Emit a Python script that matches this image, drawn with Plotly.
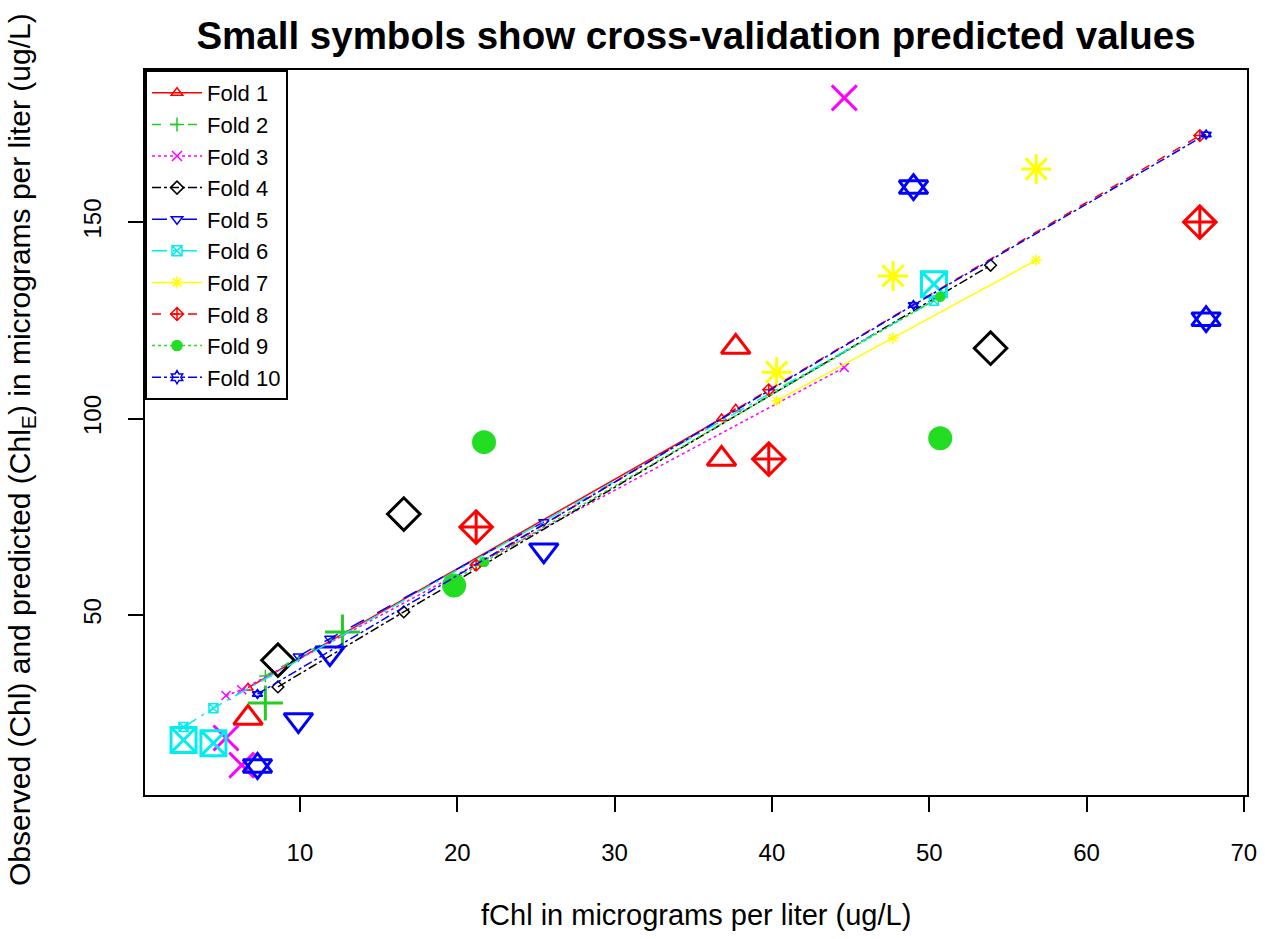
import plotly.graph_objects as go

# ---------------- data ----------------
fold_names = ["Fold 1", "Fold 2", "Fold 3", "Fold 4", "Fold 5",
              "Fold 6", "Fold 7", "Fold 8", "Fold 9", "Fold 10"]

# fChl (x) values for each fold
fold_x = [
    [6.7, 36.8, 37.7],
    [7.8, 12.7],
    [5.3, 6.3, 44.6],
    [8.6, 16.6, 53.9],
    [9.9, 11.9, 25.5],
    [2.6, 4.5, 50.3],
    [40.3, 47.7, 56.8],
    [21.2, 39.8, 67.2],
    [19.8, 21.7, 50.7],
    [7.3, 49.0, 67.6],
]
# observed Chl (large symbols)
fold_obs = [
    [23.8, 89.7, 118.2],
    [27.6, 45.7],
    [18.7, 11.8, 181.6],
    [38.5, 75.7, 117.9],
    [23.3, 40.3, 66.5],
    [18.2, 17.4, 134.2],
    [111.8, 136.3, 163.5],
    [72.4, 89.7, 150.0],
    [57.5, 94.0, 95.0],
    [11.6, 158.9, 125.3],
]
# cross-validation predicted values (small symbols + lines)
fold_pred = [
    [31.5, 100.0, 102.5],
    [34.5, 45.5],
    [29.5, 31.0, 113.0],
    [31.7, 50.8, 139.0],
    [39.5, 44.0, 73.7],
    [21.5, 26.3, 130.0],
    [104.5, 120.5, 140.3],
    [62.7, 107.3, 172.0],
    [59.0, 63.5, 131.0],
    [29.9, 128.9, 172.3],
]

x_ticks = [10, 20, 30, 40, 50, 60, 70]
y_ticks = [50, 100, 150]

# ---------------- styles ----------------
colors = ["#FF0000", "#22CC22", "#FF00FF", "#000000", "#0000FF",
          "#00EEEE", "#FFFF00", "#FF0000", "#22DD22", "#0000FF"]
symbols = ["triangle-up-open", "cross-thin-open", "x-thin-open", "diamond-open",
           "triangle-down-open", "square-x-open", "asterisk-open",
           "diamond-cross-open", "circle", "triangle-up-open"]
dashes = ["solid", "dash", "dot", "dashdot", "longdash",
          "longdashdot", "solid", "dash", "dot", "dashdot"]

fig = go.Figure()

for i, name in enumerate(fold_names):
    xs = fold_x[i]
    order = sorted(range(len(xs)), key=lambda k: xs[k])
    sx = [xs[k] for k in order]
    sp = [fold_pred[i][k] for k in order]
    c = colors[i]
    sym = symbols[i]
    big_lw = 3
    # line + small symbols (predicted)
    fig.add_trace(go.Scatter(
        x=sx, y=sp, mode="lines+markers", showlegend=False,
        line=dict(color=c, width=1.5, dash=dashes[i]),
        marker=dict(symbol=sym, size=9, color=c, line=dict(color=c, width=1.5)),
        hoverinfo="skip"))
    if i == 9:
        fig.add_trace(go.Scatter(
            x=sx, y=sp, mode="markers", showlegend=False,
            marker=dict(symbol="triangle-down-open", size=9, color=c,
                        line=dict(color=c, width=1.5)), hoverinfo="skip"))
    # big symbols (observed)
    fig.add_trace(go.Scatter(
        x=xs, y=fold_obs[i], mode="markers", showlegend=False,
        marker=dict(symbol=sym, size=25 if i != 8 else 21, color=c,
                    line=dict(color=c, width=big_lw)),
        hoverinfo="skip"))
    if i == 9:
        fig.add_trace(go.Scatter(
            x=xs, y=fold_obs[i], mode="markers", showlegend=False,
            marker=dict(symbol="triangle-down-open", size=25, color=c,
                        line=dict(color=c, width=big_lw)), hoverinfo="skip"))
    # legend entry
    fig.add_trace(go.Scatter(
        x=[None], y=[None], mode="lines+markers", name=name,
        line=dict(color=c, width=1.5, dash=dashes[i]),
        marker=dict(symbol=sym if i != 9 else "hexagram-open", size=10, color=c,
                    line=dict(color=c, width=1.5))))

fig.update_layout(
    width=1269, height=939,
    margin=dict(l=145, r=22, t=70, b=144),
    paper_bgcolor="white", plot_bgcolor="white",
    font=dict(family="Liberation Sans, Arial, sans-serif", color="black"),
    title=dict(text="<b>Small symbols show cross-validation predicted values</b>",
               x=0.5, xref="paper", xanchor="center",
               y=1 - 36 / 939, yref="container", yanchor="middle",
               font=dict(size=38.5, color="black")),
    xaxis=dict(range=[0.15, 70.2], tickvals=x_ticks, ticktext=[str(v) for v in x_ticks],
               showgrid=False, zeroline=False, showline=True, linecolor="black",
               linewidth=2, mirror=True, ticks="outside", ticklen=15, tickwidth=1.5,
               tickcolor="black", tickfont=dict(size=24), ticklabelstandoff=20),
    yaxis=dict(range=[4.2, 188.7], tickvals=y_ticks, ticktext=[str(v) for v in y_ticks],
               showgrid=False, zeroline=False, showline=True, linecolor="black",
               linewidth=2, mirror=True, ticks="outside", ticklen=15, tickwidth=1.5,
               tickcolor="black", tickfont=dict(size=24), tickangle=-90,
               ticklabelstandoff=17),
    legend=dict(x=0, y=1, xanchor="left", yanchor="top", xref="paper", yref="paper",
                bgcolor="white", bordercolor="black", borderwidth=2,
                font=dict(size=22), itemwidth=50),
    showlegend=True,
    annotations=[
        dict(text="fChl in micrograms per liter (ug/L)", xref="paper", yref="paper",
             x=0.5, y=-(915 - 795) / 725, xanchor="center", yanchor="middle",
             showarrow=False, font=dict(size=29)),
        dict(text="Observed (Chl) and predicted (Chl<sub>E</sub>) in micrograms per liter (ug/L)",
             xref="paper", yref="paper", x=-(145 - 22) / 1102, y=(795 - 450) / 725,
             xanchor="center", yanchor="middle", textangle=-90,
             showarrow=False, font=dict(size=30)),
    ],
)

fig.write_html("out.html")
